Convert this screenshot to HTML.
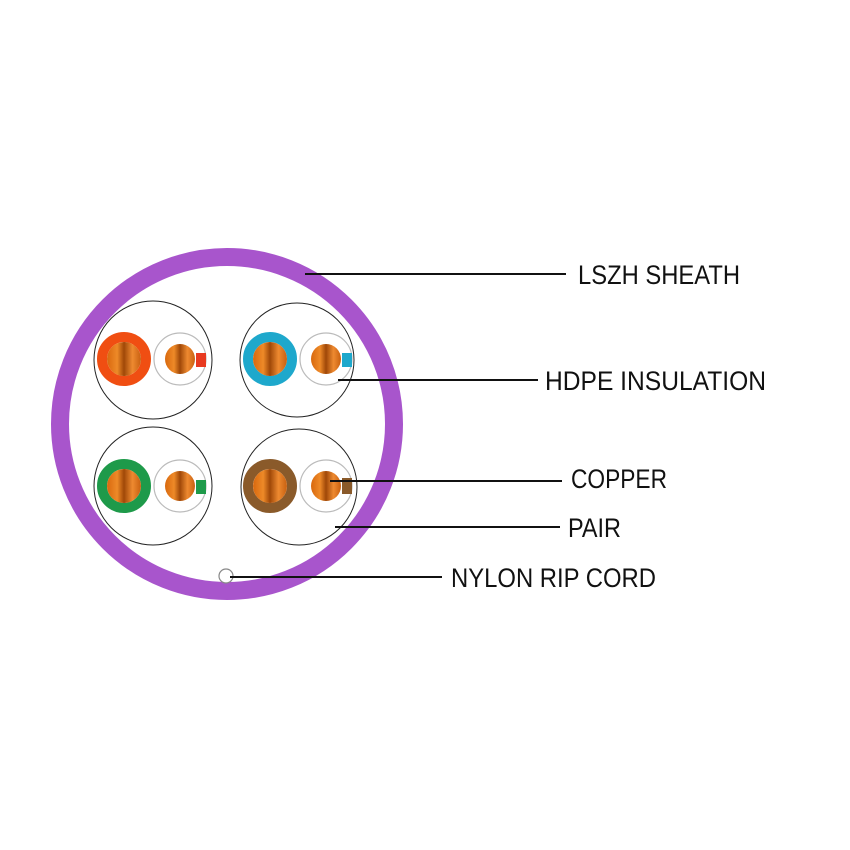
<!DOCTYPE html>
<html><head><meta charset="utf-8"><style>html,body{margin:0;padding:0;background:#fff}svg{display:block}</style></head>
<body>
<svg width="850" height="850" viewBox="0 0 850 850" xmlns="http://www.w3.org/2000/svg">
<defs>
<linearGradient id="cu" x1="0" y1="0" x2="1" y2="0">
<stop offset="0" stop-color="#d8680e"/><stop offset="0.3" stop-color="#ee8a28"/><stop offset="0.5" stop-color="#a04808"/><stop offset="0.75" stop-color="#ee8a30"/><stop offset="1" stop-color="#c86010"/>
</linearGradient>
</defs>
<circle cx="227" cy="424" r="167" fill="#fff" stroke="#a855cc" stroke-width="18"/>
<g fill="none" stroke="#222" stroke-width="1">
<circle cx="153" cy="360" r="59"/><circle cx="297" cy="360" r="57"/>
<circle cx="153" cy="486" r="59"/><circle cx="299" cy="487" r="58"/>
</g>
<g>
<circle cx="124" cy="359" r="22" fill="none" stroke="#f04e12" stroke-width="10"/><circle cx="124" cy="359" r="17" fill="url(#cu)"/>
<circle cx="180" cy="359" r="26" fill="#fff" stroke="#bbb" stroke-width="1.2"/><circle cx="180" cy="359" r="15" fill="url(#cu)"/><rect x="196" y="353" width="10" height="14" fill="#e83a20"/>
</g>
<g>
<circle cx="270" cy="359" r="22" fill="none" stroke="#1ea8cc" stroke-width="10"/><circle cx="270" cy="359" r="17" fill="url(#cu)"/>
<circle cx="326" cy="359" r="26" fill="#fff" stroke="#bbb" stroke-width="1.2"/><circle cx="326" cy="359" r="15" fill="url(#cu)"/><rect x="342" y="353" width="10" height="14" fill="#1ea8cc"/>
</g>
<g>
<circle cx="124" cy="486" r="22" fill="none" stroke="#1e9a4a" stroke-width="10"/><circle cx="124" cy="486" r="17" fill="url(#cu)"/>
<circle cx="180" cy="486" r="26" fill="#fff" stroke="#bbb" stroke-width="1.2"/><circle cx="180" cy="486" r="15" fill="url(#cu)"/><rect x="196" y="480" width="10" height="14" fill="#1e9a4a"/>
</g>
<g>
<circle cx="270" cy="486" r="22" fill="none" stroke="#8a5a2a" stroke-width="10"/><circle cx="270" cy="486" r="17" fill="url(#cu)"/>
<circle cx="326" cy="486" r="26" fill="#fff" stroke="#bbb" stroke-width="1.2"/><circle cx="326" cy="486" r="15" fill="url(#cu)"/><rect x="342" y="478" width="10" height="16" fill="#8a5a2a"/>
</g>
<circle cx="226" cy="576" r="7" fill="#fff" stroke="#888" stroke-width="1.2"/>
<g stroke="#111" stroke-width="2">
<line x1="305" y1="274" x2="566" y2="274"/>
<line x1="338" y1="380" x2="538" y2="380"/>
<line x1="330" y1="481" x2="562" y2="481"/>
<line x1="335" y1="527" x2="560" y2="527"/>
<line x1="230" y1="577" x2="442" y2="577"/>
</g>
<g font-family="Liberation Sans, sans-serif" font-size="27" fill="#111">
<text x="578" y="284" textLength="162" lengthAdjust="spacingAndGlyphs">LSZH SHEATH</text>
<text x="545" y="390" textLength="221" lengthAdjust="spacingAndGlyphs">HDPE INSULATION</text>
<text x="571" y="488" textLength="96" lengthAdjust="spacingAndGlyphs">COPPER</text>
<text x="568" y="537" textLength="53" lengthAdjust="spacingAndGlyphs">PAIR</text>
<text x="451" y="587" textLength="205" lengthAdjust="spacingAndGlyphs">NYLON RIP CORD</text>
</g>
</svg>
</body></html>
